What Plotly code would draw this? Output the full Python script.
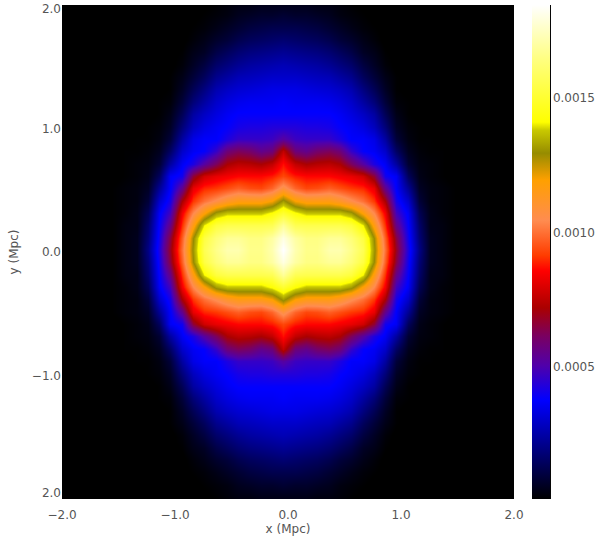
import numpy as np
import plotly.graph_objects as go

# half axis, the other three quadrants mirror it
half_y = [0.0, 0.1, 0.2, 0.3, 0.4, 0.5, 0.6, 0.7, 0.8, 0.9, 1.0,
          1.1, 1.2, 1.3, 1.4, 1.5, 1.6, 1.7, 1.8, 1.9, 2.0]

# one list per x position (0.0, 0.1, ...), values in units of 1e-5
x00 = [185, 180, 168, 150, 132, 108, 93, 87, 76, 52, 43, 38, 37, 34, 30, 27, 22, 17, 12, 8, 4]
x01 = [172, 170, 156, 142, 120, 98, 88, 76, 58, 47, 43, 38, 36, 34, 30, 26, 21, 16, 12, 7, 4]
x02 = [166, 165, 155, 137, 116, 93, 86, 72, 55, 46, 42, 38, 36, 33, 29, 25, 20, 15, 11, 7, 4]
x03 = [166, 165, 155, 137, 116, 94, 86, 74, 60, 46, 42, 38, 36, 32, 28, 24, 19, 14, 10, 6, 3]
x04 = [172, 168, 155, 137, 116, 97, 86, 75, 62, 46, 41, 38, 35, 31, 27, 22, 17, 12, 8, 5, 3]
x05 = [172, 168, 155, 137, 112, 94, 84, 72, 58, 42, 38, 36, 33, 29, 24, 19, 14, 9, 6, 3, 2]
x06 = [166, 163, 152, 132, 106, 91, 82, 62, 46, 37, 36, 33, 30, 26, 21, 16, 11, 7, 4, 2, 1]
x07 = [156, 153, 140, 118, 100, 89, 78, 52, 38, 37, 33, 29, 24, 19, 14, 10, 6, 4, 2, 1, 0]
x08 = [131, 129, 116, 104, 91, 82, 66, 42, 36, 34, 28, 24, 18, 13, 9, 6, 4, 2, 1, 0, 0]
x09 = [100, 97, 90, 84, 72, 55, 40, 36, 30, 24, 18, 13, 9, 6, 4, 2, 1, 0, 0, 0, 0]
x10 = [68, 65, 56, 48, 41, 37, 36, 24, 15, 9, 6, 4, 2, 1, 1, 0, 0, 0, 0, 0, 0]
x11 = [42, 40, 38, 36, 30, 22, 14, 8, 5, 3, 2, 1, 1, 0, 0, 0, 0, 0, 0, 0, 0]
x12 = [20, 18, 16, 13, 9, 6, 4, 3, 2, 1, 1, 0, 0, 0, 0, 0, 0, 0, 0, 0, 0]
x13 = [5, 5, 4, 4, 3, 3, 2, 2, 1, 1, 0, 0, 0, 0, 0, 0, 0, 0, 0, 0, 0]
x14 = [3, 3, 3, 2, 2, 2, 1, 1, 1, 0, 0, 0, 0, 0, 0, 0, 0, 0, 0, 0, 0]
x15 = [1, 1, 1, 1, 1, 1, 0, 0, 0, 0, 0, 0, 0, 0, 0, 0, 0, 0, 0, 0, 0]
x16 = [0] * 21
x17 = [0] * 21
x18 = [0] * 21
x19 = [0] * 21
x20 = [0] * 21
x21 = [0] * 21

columns = [x00, x01, x02, x03, x04, x05, x06, x07, x08, x09, x10,
           x11, x12, x13, x14, x15, x16, x17, x18, x19, x20, x21]

x_ticks = [-2, -1, 0, 1, 2]
x_labels = ["\u22122.0", "\u22121.0", "0.0", "1.0", "2.0"]
y_ticks = [-1.95, -1, 0, 1, 1.97]
y_labels = ["2.0", "\u22121.0", "0.0", "1.0", "2.0"]
bar_ticks = [0.0005, 0.0010, 0.0015]
bar_labels = ["0.0005", "0.0010", "0.0015"]

colors = [
    [0.0, "#000000"], [0.2, "#0000ff"], [0.27, "#5000aa"], [0.33, "#7a0060"],
    [0.387, "#aa0000"], [0.462, "#ff0000"], [0.493, "#ff3c00"], [0.564, "#ff8c50"],
    [0.645, "#ffa000"], [0.70, "#968c00"], [0.746, "#c8c800"], [0.763, "#ffff00"],
    [0.89, "#ffff80"], [1.0, "#ffffff"],
]

quadrant = np.array(columns, dtype=float).T * 1e-5
top = np.hstack([quadrant[:, :0:-1], quadrant])
z = np.vstack([top[:0:-1], top])

# the bright centre sits a little left of the axis zero
half_x = np.arange(len(columns)) / 10
x = np.concatenate([-half_x[:0:-1], half_x]) - 0.04
y = np.concatenate([-np.array(half_y)[:0:-1], half_y]) + 0.016

font = dict(family="DejaVu Sans", size=12, color="#555555")

fig = go.Figure(go.Heatmap(
    x=x, y=y, z=z,
    zmin=0.0000075, zmax=0.001847,
    zsmooth="best",
    colorscale=colors,
    colorbar=dict(
        x=1.0398, xref="paper", xanchor="left", xpad=0,
        y=0, yref="paper", yanchor="bottom", ypad=0,
        len=1, lenmode="fraction",
        thickness=18, thicknessmode="pixels",
        outlinewidth=0,
        ticks="",
        tickmode="array", tickvals=bar_ticks, ticktext=bar_labels,
        tickfont=font,
    ),
))

fig.update_layout(
    width=600, height=536,
    margin=dict(l=62, r=86, t=5, b=37, autoexpand=False),
    paper_bgcolor="white",
    plot_bgcolor="black",
    font=font,
    shapes=[dict(type="line", xref="paper", yref="paper",
                 x0=1.0807, x1=1.0807, y0=0, y1=1,
                 line=dict(color="black", width=1))],
)
# white ticks only push the labels down to where the reference has them
fig.update_xaxes(
    range=[-2, 2], tickmode="array", tickvals=x_ticks, ticktext=x_labels,
    ticks="outside", ticklen=5, tickcolor="white",
    showgrid=False, zeroline=False, showline=False,
    title=dict(text="x (Mpc)", font=font, standoff=0),
)
fig.update_yaxes(
    range=[-2, 2], tickmode="array", tickvals=y_ticks, ticktext=y_labels,
    ticks="", showgrid=False, zeroline=False, showline=False,
    title=dict(text="y (Mpc)", font=font, standoff=10),
)

# the page's default body margin would push the plot off its position
fig.write_html("out.html", config=dict(displayModeBar=False),
               post_script="document.body.style.margin='0';")
